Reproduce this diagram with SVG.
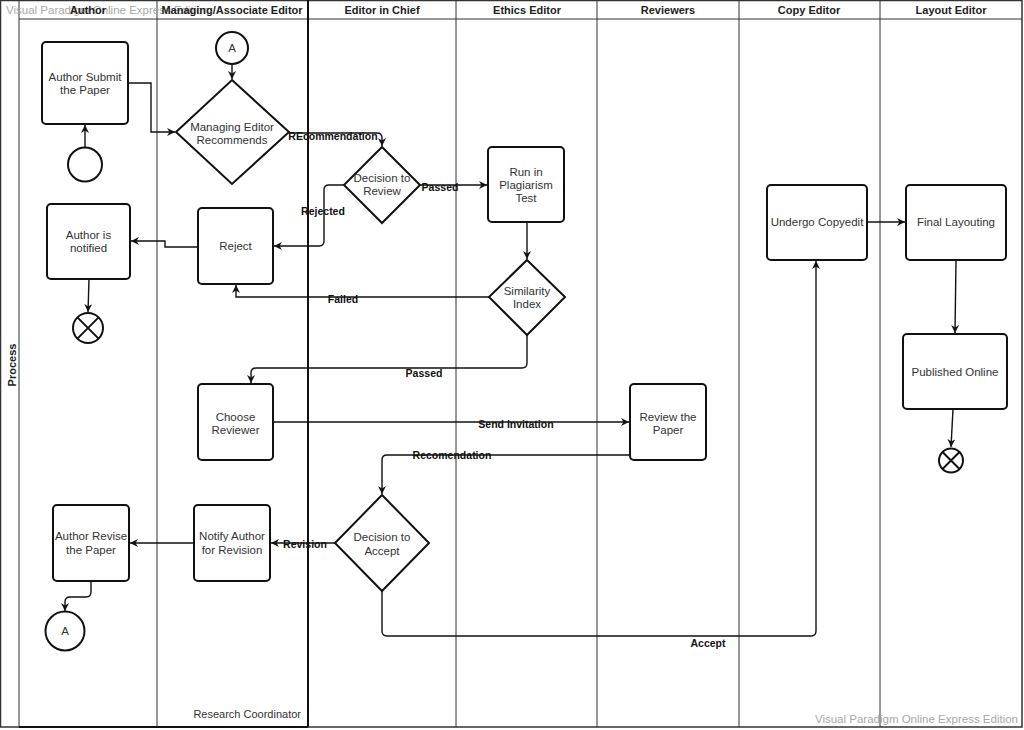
<svg xmlns="http://www.w3.org/2000/svg" width="1024" height="730" viewBox="0 0 1024 730">
<style>
.lane{stroke:#333;stroke-width:1;fill:none}
.hdr{font-family:"Liberation Sans",Arial,sans-serif;font-size:11px;font-weight:bold;fill:#222;text-anchor:middle}
.wm{font-family:"Liberation Sans",Arial,sans-serif;font-size:11.5px;fill:#a8a8a8}
.box{fill:#fff;stroke:#111;stroke-width:2}
.nt{font-family:"Liberation Sans",Arial,sans-serif;font-size:11.5px;fill:#333;text-anchor:middle}
.cn{fill:none;stroke:#111;stroke-width:1.4}
.el{font-family:"Liberation Sans",Arial,sans-serif;font-size:10.5px;font-weight:bold;fill:#111;text-anchor:middle}
</style>
<defs>
<marker id="arr" markerUnits="userSpaceOnUse" markerWidth="10" markerHeight="10" refX="8" refY="4" orient="auto">
<path d="M0,0 L8,4 L0,8 L2.5,4 z" fill="#111"/>
</marker>
</defs>
<rect width="1024" height="730" fill="#fff"/>
<g id="pool">
<rect x="0.5" y="0.5" width="1021.5" height="726.5" fill="none" stroke="#333" stroke-width="1.5"/>
<line class="lane" x1="19" y1="0" x2="19" y2="727"/>
<line class="lane" x1="19" y1="19" x2="1022" y2="19"/>
<line class="lane" x1="157" y1="0" x2="157" y2="727"/>
<line x1="308" y1="0" x2="308" y2="727" stroke="#111" stroke-width="2"/>
<line x1="19" y1="727" x2="308" y2="727" stroke="#111" stroke-width="2"/>
<line class="lane" x1="456" y1="0" x2="456" y2="727"/>
<line class="lane" x1="597" y1="0" x2="597" y2="727"/>
<line class="lane" x1="739" y1="0" x2="739" y2="727"/>
<line class="lane" x1="880" y1="0" x2="880" y2="727"/>
<text class="wm" x="6" y="14">Visual Paradigm Online Express Edition</text>
<text class="hdr" x="88" y="14">Author</text>
<text class="hdr" x="232" y="14">Managing/Associate Editor</text>
<text class="hdr" x="382" y="14">Editor in Chief</text>
<text class="hdr" x="527" y="14">Ethics Editor</text>
<text class="hdr" x="668" y="14">Reviewers</text>
<text class="hdr" x="809" y="14">Copy Editor</text>
<text class="hdr" x="951" y="14">Layout Editor</text>
<text class="hdr" transform="translate(16,365) rotate(-90)">Process</text>
<text x="301" y="718" font-family="Liberation Sans, Arial, sans-serif" font-size="11px" fill="#333" text-anchor="end">Research Coordinator</text>
<text class="wm" x="1018" y="723" text-anchor="end">Visual Paradigm Online Express Edition</text>
</g>
<g id="connectors">
<path class="cn" d="M85,147 L85,125" marker-end="url(#arr)"/>
<path class="cn" d="M128,83 L151,83 L151,132 L175,132" marker-end="url(#arr)"/>
<path class="cn" d="M232,64 L232,79" marker-end="url(#arr)"/>
<path class="cn" d="M289,133 L377,133 Q382,133 382,138 L382,146" marker-end="url(#arr)"/>
<text class="el" x="333" y="140">REcommendation</text>
<path class="cn" d="M344,185 L329,185 Q324,185 324,190 L324,241 Q324,246 319,246 L274,246" marker-end="url(#arr)"/>
<text class="el" x="323" y="215">Rejected</text>
<path class="cn" d="M420,185 L487,185" marker-end="url(#arr)"/>
<text class="el" x="440" y="191">Passed</text>
<path class="cn" d="M527,222 L527,259" marker-end="url(#arr)"/>
<path class="cn" d="M489,297 L236,297 L236,285" marker-end="url(#arr)"/>
<text class="el" x="343" y="303">Failed</text>
<path class="cn" d="M527,335 L527,363 Q527,368 522,368 L256,368 Q251,368 251,373 L251,383" marker-end="url(#arr)"/>
<text class="el" x="424" y="377">Passed</text>
<path class="cn" d="M273,422 L629,422" marker-end="url(#arr)" stroke-width="1.8"/>
<text class="el" x="516" y="428">Send Invitation</text>
<path class="cn" d="M630,455 L387,455 Q382,455 382,460 L382,494" marker-end="url(#arr)"/>
<text class="el" x="452" y="459">Recomendation</text>
<path class="cn" d="M335,543 L271,543" marker-end="url(#arr)" stroke-width="1.8"/>
<text class="el" x="305" y="548">Revision</text>
<path class="cn" d="M194,543 L130,543" marker-end="url(#arr)" stroke-width="1.8"/>
<path class="cn" d="M382,591 L382,631 Q382,636 387,636 L811,636 Q816,636 816,631 L816,261" marker-end="url(#arr)"/>
<text class="el" x="708" y="647">Accept</text>
<path class="cn" d="M867,222 L905,222" marker-end="url(#arr)"/>
<path class="cn" d="M956,260 L955,333" marker-end="url(#arr)"/>
<path class="cn" d="M953,409 L951,447" marker-end="url(#arr)"/>
<path class="cn" d="M198,247 L165,247 L165,241 L131,241" marker-end="url(#arr)"/>
<path class="cn" d="M89,279 L88,312" marker-end="url(#arr)"/>
<path class="cn" d="M91,581 L91,592 Q91,597 86,597 L70,597 Q65,597 65,602 L65,611" marker-end="url(#arr)"/>
</g>
<g id="start">
<circle class="box" cx="85" cy="164.5" r="17"/>
</g>
<g id="submit">
<rect class="box" x="42" y="42" width="86" height="82" rx="4"/>
<text class="nt" x="85" y="81">Author Submit</text>
<text class="nt" x="85" y="94">the Paper</text>
</g>
<g id="notified">
<rect class="box" x="47" y="204" width="83" height="75" rx="4"/>
<text class="nt" x="88.5" y="238.5">Author is</text>
<text class="nt" x="88.5" y="252">notified</text>
</g>
<g id="end1">
<circle class="box" cx="88" cy="328" r="15"/>
<path d="M77.4,317.4 L98.6,338.6 M98.6,317.4 L77.4,338.6" stroke="#111" stroke-width="2"/>
</g>
<g id="revise">
<rect class="box" x="53" y="505" width="76" height="76" rx="4"/>
<text class="nt" x="91" y="540">Author Revise</text>
<text class="nt" x="91" y="553.5">the Paper</text>
</g>
<g id="connA2">
<circle class="box" cx="65" cy="631" r="19.5"/>
<text class="nt" x="65" y="635">A</text>
</g>
<g id="connA1">
<circle class="box" cx="232" cy="48" r="16"/>
<text class="nt" x="232" y="52">A</text>
</g>
<g id="recommends">
<polygon class="box" points="232,80 289,132 232,184 176,132"/>
<text class="nt" x="232" y="130.5">Managing Editor</text>
<text class="nt" x="232" y="143.5">Recommends</text>
</g>
<g id="reject">
<rect class="box" x="198" y="208" width="75" height="76" rx="4"/>
<text class="nt" x="235.5" y="250">Reject</text>
</g>
<g id="choose">
<rect class="box" x="198" y="384" width="75" height="76" rx="4"/>
<text class="nt" x="235.5" y="420.5">Choose</text>
<text class="nt" x="235.5" y="433.5">Reviewer</text>
</g>
<g id="notify">
<rect class="box" x="194" y="505" width="76" height="76" rx="4"/>
<text class="nt" x="232" y="540">Notify Author</text>
<text class="nt" x="232" y="553.5">for Revision</text>
</g>
<g id="decReview">
<polygon class="box" points="382,147 420,185 382,223 344,185"/>
<text class="nt" x="382" y="182">Decision to</text>
<text class="nt" x="382" y="195">Review</text>
</g>
<g id="decAccept">
<polygon class="box" points="382,495 429,543 382,591 335,543"/>
<text class="nt" x="382" y="541">Decision to</text>
<text class="nt" x="382" y="554.5">Accept</text>
</g>
<g id="plagiarism">
<rect class="box" x="488" y="147" width="76" height="75" rx="4"/>
<text class="nt" x="526" y="175.5">Run in</text>
<text class="nt" x="526" y="188.5">Plagiarism</text>
<text class="nt" x="526" y="201.5">Test</text>
</g>
<g id="similarity">
<polygon class="box" points="527,260 565,297 527,335 489,297"/>
<text class="nt" x="527" y="295">Similarity</text>
<text class="nt" x="527" y="308">Index</text>
</g>
<g id="reviewPaper">
<rect class="box" x="630" y="384" width="76" height="76" rx="4"/>
<text class="nt" x="668" y="420.5">Review the</text>
<text class="nt" x="668" y="433.5">Paper</text>
</g>
<g id="copyedit">
<rect class="box" x="767" y="185" width="100" height="75" rx="4"/>
<text class="nt" x="817" y="226">Undergo Copyedit</text>
</g>
<g id="layouting">
<rect class="box" x="906" y="185" width="100" height="75" rx="4"/>
<text class="nt" x="956" y="226">Final Layouting</text>
</g>
<g id="published">
<rect class="box" x="903" y="334" width="104" height="75" rx="4"/>
<text class="nt" x="955" y="376">Published Online</text>
</g>
<g id="end2">
<circle class="box" cx="951" cy="460.5" r="12"/>
<path d="M942.5,452 L959.5,469 M959.5,452 L942.5,469" stroke="#111" stroke-width="2"/>
</g>
</svg>
